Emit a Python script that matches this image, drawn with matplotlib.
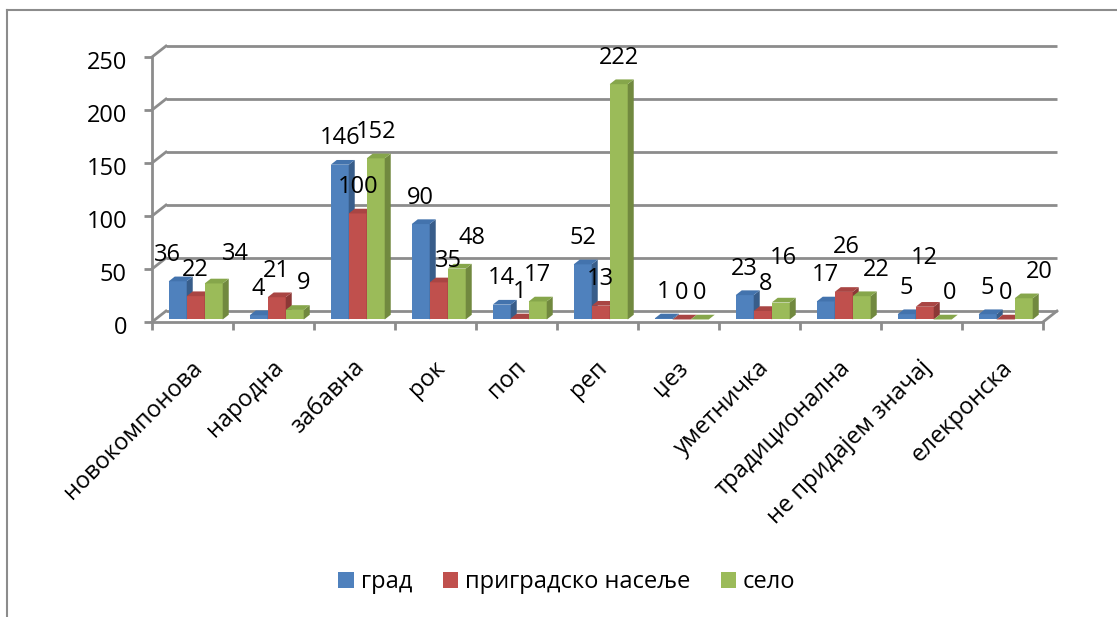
import matplotlib
matplotlib.use('Agg')
import matplotlib.pyplot as plt
import matplotlib.transforms as mtransforms
from matplotlib.patches import Patch
from matplotlib.lines import Line2D
import numpy as np

# ---- data ----
categories = ['новокомпонова', 'народна', 'забавна', 'рок', 'поп', 'реп', 'џез',
              'уметничка', 'традиционална', 'не придајем значај', 'елекронска']
series_names = ['град', 'приградско насеље', 'село']
grad = [36, 4, 146, 90, 14, 52, 1, 23, 17, 5, 5]
prigradsko = [22, 21, 100, 35, 1, 13, 0, 8, 26, 12, 0]
selo = [34, 9, 152, 48, 17, 222, 0, 16, 22, 0, 20]
y_ticks = [0, 50, 100, 150, 200, 250]

# label nudges (pixels, dx right / dy up) to keep crowded labels apart
label_nudge = {
    (0, 0): (-10, 0), (0, 2): (22, 3),
    (1, 2): (9, 0),
    (3, 1): (10, -5), (3, 2): (15, 4),
    (7, 1): (3, 0), (7, 2): (3, 18),
    (8, 1): (3, 18), (8, 2): (15, 0),
    (9, 1): (0, 22), (9, 2): (7, 0),
    (10, 2): (16, 0),
}

plt.rcParams['font.family'] = ['Open Sans', 'DejaVu Sans']
FS = 17

W, H, DPI = 1117, 617, 100
fig = plt.figure(figsize=(W / DPI, H / DPI), dpi=DPI)
fig.patch.set_facecolor('white')

# front plane of the plot box, in pixels
x0_px, x1_px = 152, 1043
ytop_px, ybot_px = 57, 322
ax = fig.add_axes([x0_px / W, 1 - ybot_px / H,
                   (x1_px - x0_px) / W, (ybot_px - ytop_px) / H])
n = len(categories)
ymax = y_ticks[-1]
ax.set_xlim(-0.5, n - 0.5)
ax.set_ylim(0, ymax)
px_x = (x1_px - x0_px) / n
px_y = (ybot_px - ytop_px) / ymax
DEPTH_PX = (14, 11)


def depth(f):
    """Data-space shift of a point moved back by fraction f of the box depth."""
    return f * DEPTH_PX[0] / px_x, f * DEPTH_PX[1] / px_y


GRID = '#8C8C8C'
LW = 2.0

# back wall and side wall grid
bx, by = depth(1.0)
for v in y_ticks:
    ax.plot([-0.5 + bx, n - 0.5 + bx], [v + by, v + by], color=GRID, lw=LW,
            clip_on=False, zorder=1, solid_capstyle='butt')
    ax.plot([-0.5, -0.5 + bx], [v, v + by], color=GRID, lw=LW,
            clip_on=False, zorder=1)
ax.plot([n - 0.5, n - 0.5 + bx], [0, by], color=GRID, lw=LW, clip_on=False, zorder=1)

# front axes
for side in ['top', 'right']:
    ax.spines[side].set_visible(False)
for side in ['left', 'bottom']:
    ax.spines[side].set_color(GRID)
    ax.spines[side].set_linewidth(LW)
    ax.spines[side].set_zorder(2)
ax.set_facecolor('none')
ax.set_yticks(y_ticks)
ax.set_yticklabels([str(t) for t in y_ticks], fontsize=FS)
ax.set_xticks(np.arange(-0.5, n, 1.0))
ax.set_xticklabels([])
ax.tick_params(axis='both', direction='out', length=6, width=LW, color=GRID)
ax.tick_params(axis='y', pad=12)
shift_down = mtransforms.ScaledTranslation(0, -3 / DPI, fig.dpi_scale_trans)
for lab in ax.get_yticklabels():
    lab.set_transform(lab.get_transform() + shift_down)

# bars
front = ['#4F81BD', '#C0504D', '#9BBB59']
top_c = ['#4373AD', '#A94543', '#86A64B']
side_c = ['#385D8A', '#8C3836', '#71893F']
series = [grad, prigradsko, selo]
bw = 2 / 9
f0, f1 = 0.23, 0.66
ox0, oy0 = depth(f0)
ox1, oy1 = depth(f1)
ddx, ddy = ox1 - ox0, oy1 - oy0
xs = np.arange(n)

for k, vals in enumerate(series):
    z = 3 + k
    xc = xs + (k - 1) * bw + ox0
    ax.bar(xc, vals, width=bw, bottom=oy0, color=front[k], linewidth=0,
           zorder=z, clip_on=False)
    for i, v in enumerate(vals):
        xl, xr = xc[i] - bw / 2, xc[i] + bw / 2
        yb, yt = oy0, oy0 + v
        ax.fill([xr, xr + ddx, xr + ddx, xr], [yb, yb + ddy, yt + ddy, yt],
                color=side_c[k], lw=0, zorder=z, clip_on=False)
        ax.fill([xl, xr, xr + ddx, xl + ddx], [yt, yt, yt + ddy, yt + ddy],
                color=top_c[k], lw=0, zorder=z, clip_on=False)
        ndx, ndy = label_nudge.get((i, k), (0, 0))
        ax.text(xc[i] + ndx / px_x, yt + (26.5 + ndy) / px_y, str(v),
                ha='center', va='center', fontsize=FS, zorder=10, clip_on=False)

# category labels
for i, name in enumerate(categories):
    ax.text(i + 10.5 / px_x, -46.5 / px_y, name, rotation=45, ha='right',
            va='baseline', rotation_mode='anchor', fontsize=FS, clip_on=False)

# legend
handles = [Patch(facecolor=c, edgecolor='none') for c in front]
fig.legend(handles, series_names, loc='center', bbox_to_anchor=(567 / W, 1 - 582 / H),
           ncol=3, frameon=False, handlelength=0.64, handleheight=0.64,
           handletextpad=0.3, columnspacing=1.3, fontsize=FS)

# chart area border
fig.add_artist(Line2D([7 / W, 1], [1 - 10 / H, 1 - 10 / H], transform=fig.transFigure,
                      color='#8C8C8C', lw=1.5))
fig.add_artist(Line2D([7 / W, 7 / W], [1 - 10 / H, 0], transform=fig.transFigure,
                      color='#8C8C8C', lw=1.5))

fig.savefig('out.png', dpi=DPI, facecolor='white')
